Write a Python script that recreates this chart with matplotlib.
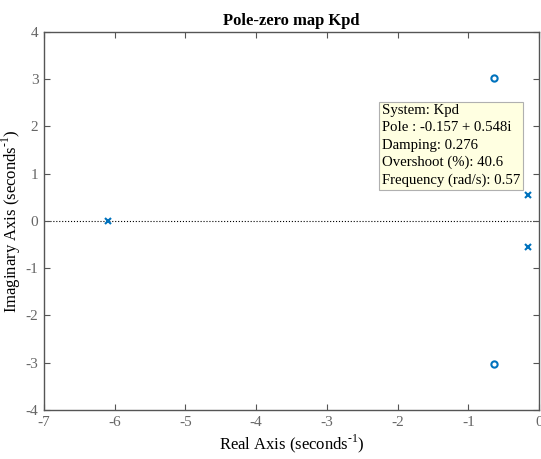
import numpy as np
import matplotlib
matplotlib.use('Agg')
from matplotlib import pyplot as plt

# poles and zeros of Kpd
pole_re = [-6.1, -0.157, -0.157]
pole_im = [0.0, 0.548, -0.548]
zero_re = [-0.643, -0.643]
zero_im = [3.03, -3.03]

xticks = [-7, -6, -5, -4, -3, -2, -1, 0]
yticks = [-4, -3, -2, -1, 0, 1, 2, 3, 4]

tip_lines = ['System: Kpd',
             'Pole : -0.157 + 0.548i',
             'Damping: 0.276',
             'Overshoot (%): 40.6',
             'Frequency (rad/s): 0.57']

BLUE = '#0072BD'
GREY = '#555555'

plt.rcParams['font.family'] = ['Liberation Serif', 'DejaVu Serif']
plt.rcParams['mathtext.fontset'] = 'custom'
plt.rcParams['mathtext.rm'] = 'Liberation Serif'
plt.rcParams['axes.unicode_minus'] = False

fig = plt.figure(figsize=(5.41, 4.59), dpi=100)
ax = fig.add_axes([0.0813, 0.1068, 0.915, 0.8235])

ax.axhline(0, color='k', ls=':', lw=0.8, zorder=1)
ax.plot(pole_re, pole_im, 'x', color=BLUE, ms=4, mew=1.5, zorder=3)
ax.plot(zero_re, zero_im, 'o', color=BLUE, ms=4.5, mew=1.5, mfc='none', zorder=3)

ax.set_xlim(-7, 0)
ax.set_ylim(-4, 4)
ax.set_xticks(xticks)
ax.set_yticks(yticks)
ax.tick_params(direction='in', length=4, width=0.8, top=True, right=True,
               colors=GREY, labelsize=11, labelcolor='#666666', pad=4)
for s in ax.spines.values():
    s.set_color(GREY)
    s.set_linewidth(1.0)

ax.set_title('Pole-zero map Kpd', fontsize=12, fontweight='bold', pad=5)
ax.set_xlabel(r'Real Axis (seconds$^{\text{-}1}$)', fontsize=12, labelpad=3)
ax.set_ylabel(r'Imaginary Axis (seconds$^{\text{-}1}$)', fontsize=12, labelpad=2)

ax.text(-2.22, 2.47, '\n'.join(tip_lines), fontsize=10.6, va='top', ha='left',
        linespacing=1.42, zorder=4,
        bbox=dict(boxstyle='square,pad=0.2', fc='#FFFFE1', ec='#b0b0b0', lw=0.8))

fig.savefig('out.png', dpi=100)
